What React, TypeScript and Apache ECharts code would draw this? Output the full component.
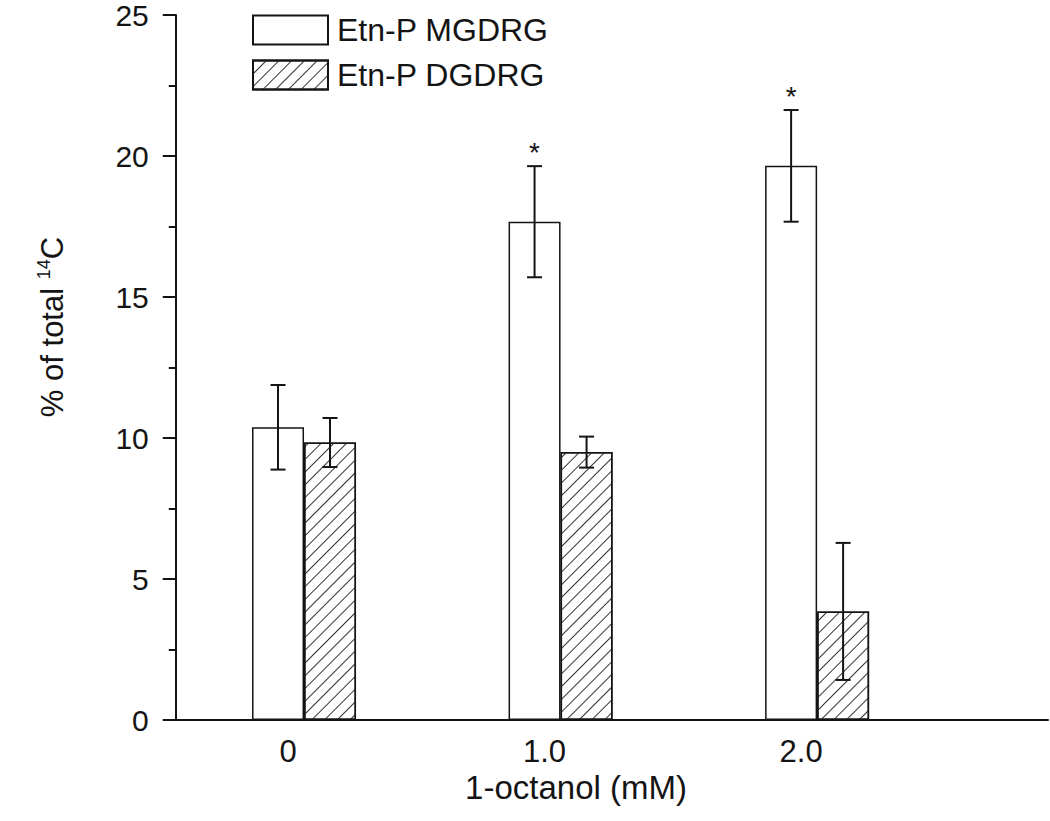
import React, { useEffect, useRef } from "react";
import * as echarts from "echarts";

const categories = ["0", "1.0", "2.0"];
const seriesNames = ["Etn-P MGDRG", "Etn-P DGDRG"];
const mgdrg = [10.38, 17.67, 19.65];
const mgdrgErr = [1.5, 1.97, 1.98];
const dgdrg = [9.84, 9.5, 3.85];
const dgdrgErr = [0.87, 0.55, 2.43];
const mgdrgSig = ["", "*", "*"];
const dgdrgSig = ["", "", ""];
const yTicks = { min: 0, max: 25, interval: 5 };
const xRange = { min: -0.5, max: 2.9, interval: 0.5 };
const xTitle = "1-octanol (mM)";

const FONT = "Liberation Sans, Arial, sans-serif";
const INK = "#141414";
const BAR_W = 52;

export default function App() {
  const ref = useRef<HTMLDivElement>(null);
  useEffect(() => {
    if (!ref.current) return;
    const chart = echarts.init(ref.current, undefined, { renderer: "svg" });

    const errData: any[] = [];
    mgdrg.forEach((v, i) => errData.push([i, v - mgdrgErr[i], v + mgdrgErr[i], -1, mgdrgSig[i]]));
    dgdrg.forEach((v, i) => errData.push([i, v - dgdrgErr[i], v + dgdrgErr[i], 1, dgdrgSig[i]]));

    const option: any = {
      animation: false,
      backgroundColor: "#fff",
      textStyle: { fontFamily: FONT },
      grid: { left: 175.75, right: 2, top: 15, bottom: 101 },
      legend: {
        orient: "vertical",
        left: 252,
        top: 14,
        padding: 0,
        icon: "rect",
        itemWidth: 75,
        itemHeight: 29,
        itemGap: 13,
        data: seriesNames,
        textStyle: { fontSize: 32, color: INK, fontFamily: FONT, lineHeight: 29, padding: [0, 0, 0, 4] },
      },
      xAxis: {
        type: "value",
        min: xRange.min,
        max: xRange.max,
        interval: xRange.interval,
        splitLine: { show: false },
        axisLine: { onZero: false, lineStyle: { color: INK, width: 2 } },
        axisTick: { show: false },
        axisLabel: {
          fontSize: 31,
          color: INK,
          fontFamily: FONT,
          margin: 16,
          padding: [0, 32, 0, 0],
          showMinLabel: false,
          showMaxLabel: false,
          formatter: (v: number) => {
            const i = Math.round(v);
            return Math.abs(v - i) < 1e-6 && i >= 0 && i < categories.length ? categories[i] : "";
          },
        },
      },
      yAxis: {
        type: "value",
        min: yTicks.min,
        max: yTicks.max,
        interval: yTicks.interval,
        axisLine: { show: true, onZero: false, lineStyle: { color: INK, width: 2 } },
        axisTick: { show: true, length: 13, lineStyle: { color: INK, width: 2 } },
        minorTick: { show: true, splitNumber: 2, length: 7, lineStyle: { color: INK, width: 2 } },
        splitLine: { show: false },
        axisLabel: { fontSize: 30, color: INK, fontFamily: FONT, margin: 27 },
      },
      series: [
        {
          name: seriesNames[0],
          type: "bar",
          data: mgdrg.map((v, i) => [i, v]),
          barWidth: BAR_W,
          barGap: "0%",
          itemStyle: { color: "#fff", borderColor: INK, borderWidth: 1.5 },
        },
        {
          name: seriesNames[1],
          type: "bar",
          data: dgdrg.map((v, i) => [i, v]),
          barWidth: BAR_W,
          barGap: "0%",
          itemStyle: {
            color: "#fff",
            borderColor: INK,
            borderWidth: 1.5,
            decal: {
              symbol: "rect",
              symbolSize: 1,
              dashArrayX: [1, 0],
              dashArrayY: [1, 7.5],
              rotation: -Math.PI / 4,
              color: "#333",
              backgroundColor: "#fff",
            },
          },
        },
        {
          type: "custom",
          data: errData,
          z: 10,
          silent: true,
          renderItem: (params: any, api: any) => {
            const cat = api.value(0);
            const lo = api.value(1);
            const hi = api.value(2);
            const side = api.value(3);
            const sig = errData[params.dataIndex][4];
            const c = api.coord([cat, lo]);
            const x = c[0] + side * (BAR_W / 2);
            const yLo = c[1];
            const yHi = api.coord([cat, hi])[1];
            const cap = 7.5;
            const ls = { stroke: INK, lineWidth: 2 };
            const children: any[] = [
              { type: "line", shape: { x1: x, y1: yLo, x2: x, y2: yHi }, style: ls },
              { type: "line", shape: { x1: x - cap, y1: yLo, x2: x + cap, y2: yLo }, style: ls },
              { type: "line", shape: { x1: x - cap, y1: yHi, x2: x + cap, y2: yHi }, style: ls },
            ];
            if (sig) {
              children.push({
                type: "text",
                x: x,
                y: yHi - 14,
                style: { text: sig, fill: INK, font: `28px ${FONT}`, align: "center", verticalAlign: "middle" },
              });
            }
            return { type: "group", children };
          },
        },
      ],
      graphic: [
        {
          type: "text",
          x: 52,
          y: 327,
          rotation: Math.PI / 2,
          style: {
            text: "{a|% of total }{s|14}{a|C}",
            align: "center",
            verticalAlign: "middle",
            fill: INK,
            rich: {
              a: { fontSize: 31, fontFamily: FONT, fill: INK, lineHeight: 34 },
              s: { fontSize: 18, fontFamily: FONT, fill: INK, verticalAlign: "top", lineHeight: 18 },
            },
          },
        },
        {
          type: "text",
          x: 576,
          y: 787,
          style: { text: xTitle, font: `33px ${FONT}`, fill: INK, align: "center", verticalAlign: "middle" },
        },
      ],
    };
    chart.setOption(option);
    return () => chart.dispose();
  }, []);
  return <div ref={ref} style={{ position: "absolute", left: 0, top: 0, width: 1050, height: 821 }} />;
}
